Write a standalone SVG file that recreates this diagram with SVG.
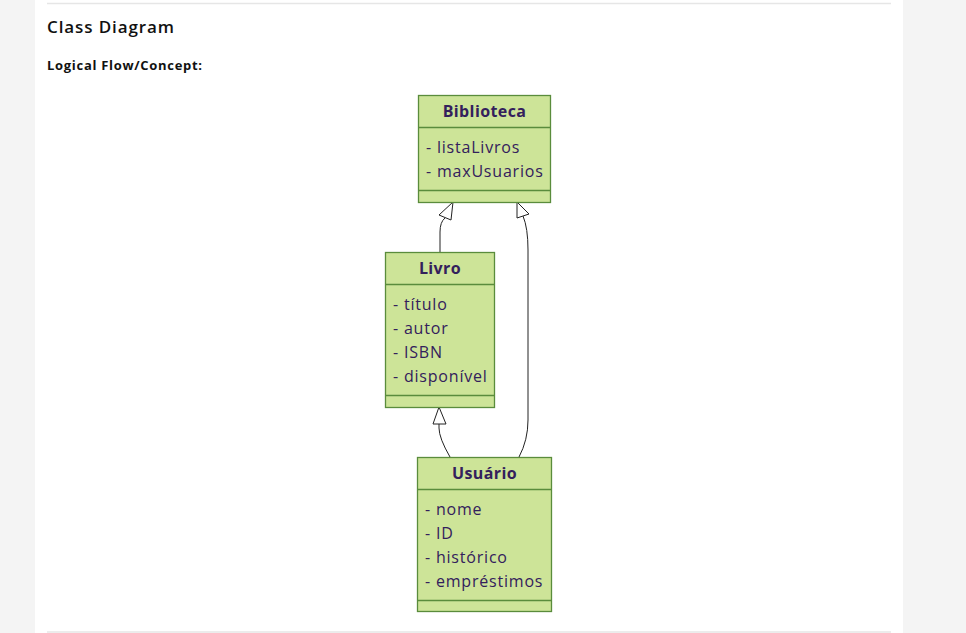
<svg xmlns="http://www.w3.org/2000/svg" width="966" height="633" viewBox="0 0 966 633">
<defs>
<style>
.bg{fill:#f4f4f4}
.panel{fill:#ffffff}
.rule{stroke:#e6e6e6;stroke-width:1.5}
.h1{font-family:"Open Sans","Noto Sans",sans-serif;font-size:17px;font-weight:600;fill:#111;letter-spacing:0.9px}
.h2{font-family:"Open Sans","Noto Sans",sans-serif;font-size:13px;font-weight:700;fill:#111;letter-spacing:0.7px}
.box{fill:#cde498;stroke:#5a8c3c;stroke-width:1.3}
.div{stroke:#5a8c3c;stroke-width:1.3}
.title{font-family:"Open Sans","Noto Sans",sans-serif;font-size:16px;font-weight:700;fill:#33205c;text-anchor:middle;letter-spacing:0.4px}
.attr{font-family:"Open Sans","Noto Sans",sans-serif;font-size:16px;fill:#33205c;letter-spacing:0.8px}
.edge{fill:none;stroke:#222;stroke-width:1}
.head{fill:#ffffff;stroke:#222;stroke-width:1}
</style>
</defs>
<rect class="bg" x="0" y="0" width="966" height="633"/>
<rect class="panel" x="35" y="0" width="868" height="633"/>
<line class="rule" x1="47" y1="3.5" x2="891" y2="3.5"/>
<line class="rule" x1="47" y1="632" x2="891" y2="632"/>
<text class="h1" x="47" y="33">Class Diagram</text>
<text class="h2" x="47" y="70">Logical Flow/Concept:</text>

<g id="connectors">
<path class="edge" d="M440,252 L440,232 Q440,222 445,218"/>
<polygon class="head" points="453,202 439,215 451,220"/>
<path class="edge" d="M519,457 Q528,440 528,420 L528,250 Q528,228 523,216"/>
<polygon class="head" points="517,202 517,218 529,214"/>
<path class="edge" d="M450,457 Q439,438 439,428 L439,424"/>
<polygon class="head" points="439,407 433,424 446,424"/>
</g>

<g id="Biblioteca">
<rect class="box" x="418.5" y="95.5" width="132" height="107"/>
<line class="div" x1="418.5" y1="127.5" x2="550.5" y2="127.5"/>
<line class="div" x1="418.5" y1="190.5" x2="550.5" y2="190.5"/>
<text class="title" x="484.5" y="117">Biblioteca</text>
<text class="attr" x="426" y="153">- listaLivros</text>
<text class="attr" x="426" y="177">- maxUsuarios</text>
</g>

<g id="Livro">
<rect class="box" x="385.5" y="252.5" width="109" height="155"/>
<line class="div" x1="385.5" y1="284.5" x2="494.5" y2="284.5"/>
<line class="div" x1="385.5" y1="395.5" x2="494.5" y2="395.5"/>
<text class="title" x="440" y="274">Livro</text>
<text class="attr" x="393" y="310">- título</text>
<text class="attr" x="393" y="334">- autor</text>
<text class="attr" x="393" y="358">- ISBN</text>
<text class="attr" x="393" y="382">- disponível</text>
</g>

<g id="Usuario">
<rect class="box" x="417.5" y="457.5" width="134" height="154"/>
<line class="div" x1="417.5" y1="489.5" x2="551.5" y2="489.5"/>
<line class="div" x1="417.5" y1="600.5" x2="551.5" y2="600.5"/>
<text class="title" x="484.5" y="479">Usuário</text>
<text class="attr" x="425" y="515">- nome</text>
<text class="attr" x="425" y="539">- ID</text>
<text class="attr" x="425" y="563">- histórico</text>
<text class="attr" x="425" y="587">- empréstimos</text>
</g>
</svg>
